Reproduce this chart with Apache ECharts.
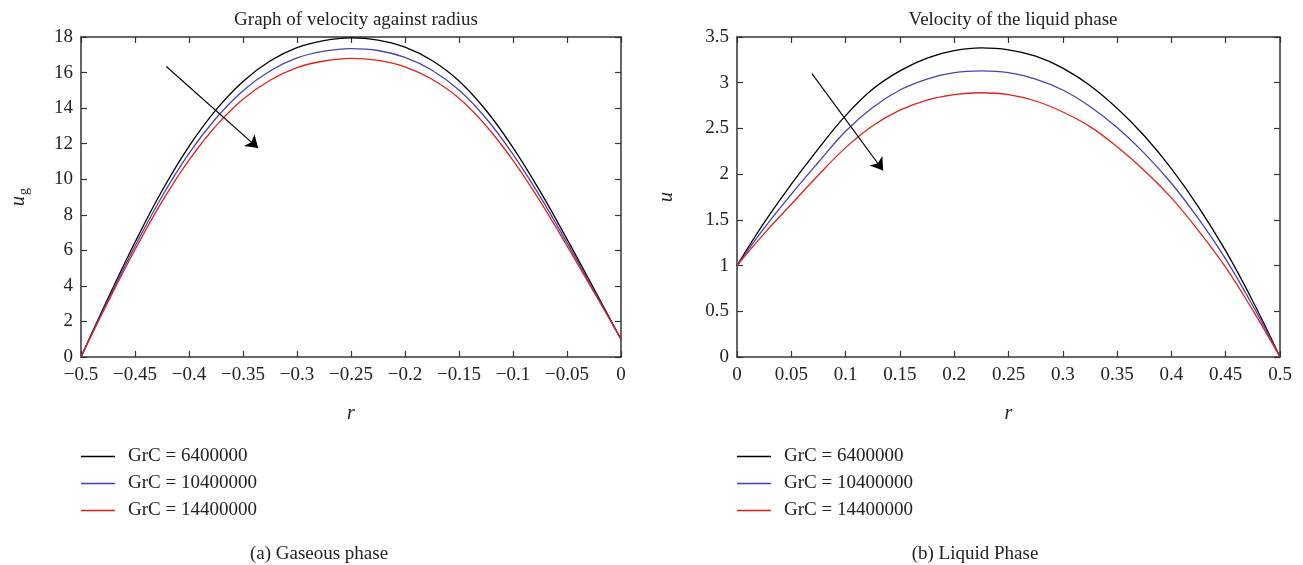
<!DOCTYPE html>
<html>
<head>
<meta charset="utf-8">
<script src="https://cdn.jsdelivr.net/npm/echarts@6/dist/echarts.min.js"></script>
<style>
html, body { margin: 0; background: #fff; }
#main { width: 1303px; height: 565px; }
</style>
</head>
<body>
<div id="main"></div>
<script>
// series names
const names = ["GrC = 6400000", "GrC = 10400000", "GrC = 14400000"];
const colors = ["#000000", "#4444b4", "#e3211b"];

// (a) gaseous phase, r from -0.5 to 0
const rGas = [-0.5, -0.475, -0.45, -0.425, -0.4, -0.375, -0.35, -0.325, -0.3, -0.275, -0.25,
  -0.225, -0.2, -0.175, -0.15, -0.125, -0.1, -0.075, -0.05, -0.025, 0];
const gasBlack = [0, 3.3, 6.45, 9.35, 11.85, 13.9, 15.5, 16.65, 17.4, 17.8, 17.95,
  17.83, 17.43, 16.68, 15.53, 13.88, 11.78, 9.33, 6.63, 3.83, 1.0];
const gasBlue = [0, 3.19, 6.23, 9.03, 11.45, 13.43, 14.98, 16.09, 16.82, 17.2, 17.35,
  17.24, 16.85, 16.13, 15.02, 13.43, 11.4, 9.04, 6.43, 3.73, 1.0];
const gasRed = [0, 3.09, 6.03, 8.74, 11.08, 13.0, 14.5, 15.57, 16.28, 16.65, 16.8,
  16.69, 16.32, 15.62, 14.55, 13.01, 11.06, 8.77, 6.25, 3.64, 1.0];

// (b) liquid phase, r from 0 to 0.5
const rLiq = [0, 0.025, 0.05, 0.075, 0.1, 0.125, 0.15, 0.175, 0.2, 0.225, 0.25,
  0.275, 0.3, 0.325, 0.35, 0.375, 0.4, 0.425, 0.45, 0.475, 0.5];
const liqBlack = [1.0, 1.47, 1.89, 2.28, 2.64, 2.93, 3.13, 3.27, 3.35, 3.38, 3.36,
  3.29, 3.16, 2.97, 2.72, 2.42, 2.06, 1.64, 1.16, 0.61, 0];
const liqBlue = [1.0, 1.41, 1.78, 2.13, 2.47, 2.73, 2.92, 3.04, 3.11, 3.13, 3.11,
  3.04, 2.92, 2.74, 2.51, 2.23, 1.9, 1.51, 1.07, 0.56, 0];
const liqRed = [1.0, 1.35, 1.67, 1.99, 2.29, 2.53, 2.7, 2.81, 2.87, 2.89, 2.87,
  2.8, 2.68, 2.52, 2.3, 2.04, 1.74, 1.38, 0.98, 0.51, 0];

// arrows (start, end) in data units
const gasArrow = [[-0.421, 16.34], [-0.336, 11.75]];
const liqArrow = [[0.069, 3.10], [0.1345, 2.04]];

const serif = "'Liberation Serif', 'DejaVu Serif', serif";
const axisCol = "#333";

function zip(xs, ys) {
  return xs.map((x, i) => [x, ys[i]]);
}

function xAx(grid, min, max, pos, withLabel) {
  return {
    type: "value", gridIndex: grid, min: min, max: max, interval: 0.05, position: pos,
    name: withLabel ? "r" : "", nameLocation: "middle", nameGap: 47,
    nameTextStyle: { fontFamily: serif, fontStyle: "italic", fontSize: 20, color: "#222" },
    axisLine: { onZero: false, lineStyle: { color: axisCol, width: 1.5 } },
    axisTick: { inside: true, length: 6, lineStyle: { color: axisCol, width: 1.2 } },
    axisLabel: {
      show: withLabel, margin: 9, fontFamily: serif, fontSize: 19, color: "#222",
      formatter: (v) => String(v).replace("-", "\u2212")
    },
    splitLine: { show: false }
  };
}

function yAx(grid, max, interval, pos, name, gap) {
  return {
    type: "value", gridIndex: grid, min: 0, max: max, interval: interval, position: pos,
    name: name, nameLocation: "middle", nameGap: gap,
    nameTextStyle: {
      fontFamily: serif, fontSize: 20, color: "#222",
      rich: {
        i: { fontFamily: serif, fontStyle: "italic", fontSize: 20, color: "#222" },
        s: { fontFamily: serif, fontSize: 14, color: "#222", padding: [10, 0, 0, 1] }
      }
    },
    axisLine: { onZero: false, lineStyle: { color: axisCol, width: 1.5 } },
    axisTick: { inside: true, length: 6, lineStyle: { color: axisCol, width: 1.2 } },
    axisLabel: { show: pos === "left", margin: 8, fontFamily: serif, fontSize: 19, color: "#222" },
    splitLine: { show: false }
  };
}

function line(name, color, xIdx, yIdx, data, arrow) {
  const s = {
    name: name, type: "line", xAxisIndex: xIdx, yAxisIndex: yIdx,
    data: data, smooth: 0.4, symbol: "none",
    lineStyle: { color: color, width: 1.3 }, itemStyle: { color: color },
    z: 3
  };
  if (arrow) {
    s.markLine = {
      silent: true, symbol: ["none", "arrow"], symbolSize: 12,
      label: { show: false },
      lineStyle: { color: "#000", width: 1.2, type: "solid" },
      data: [[{ coord: arrow[0] }, { coord: arrow[1] }]]
    };
  }
  return s;
}

const titleStyle = { fontFamily: serif, fontSize: 19, fontWeight: "normal", color: "#222" };
const legendBase = {
  orient: "vertical", top: 442, icon: "rect", itemWidth: 34, itemHeight: 1.5, itemGap: 8,
  data: names,
  textStyle: { fontFamily: serif, fontSize: 19, color: "#222", padding: [0, 0, 0, 8] }
};

const chart = echarts.init(document.getElementById("main"));
chart.setOption({
  animation: false,
  backgroundColor: "#fff",
  title: [
    { text: "Graph of velocity against radius", left: 351, top: 6, textAlign: "center", textStyle: titleStyle },
    { text: "Velocity of the liquid phase", left: 1008, top: 6, textAlign: "center", textStyle: titleStyle },
    { text: "(a) Gaseous phase", left: 314, top: 540, textAlign: "center", textStyle: titleStyle },
    { text: "(b) Liquid Phase", left: 970, top: 540, textAlign: "center", textStyle: titleStyle }
  ],
  legend: [
    Object.assign({}, legendBase, { left: 76 }),
    Object.assign({}, legendBase, { left: 732 })
  ],
  grid: [
    { left: 81, top: 37, width: 540, height: 320 },
    { left: 737, top: 37, width: 543, height: 320 }
  ],
  xAxis: [
    xAx(0, -0.5, 0, "bottom", true),
    xAx(0, -0.5, 0, "top", false),
    xAx(1, 0, 0.5, "bottom", true),
    xAx(1, 0, 0.5, "top", false)
  ],
  yAxis: [
    yAx(0, 18, 2, "left", "{i|u}{s|g}", 50),
    yAx(0, 18, 2, "right", "", 0),
    yAx(1, 3.5, 0.5, "left", "{i|u}", 60),
    yAx(1, 3.5, 0.5, "right", "", 0)
  ],
  series: [
    line(names[0], colors[0], 0, 0, zip(rGas, gasBlack), gasArrow),
    line(names[1], colors[1], 0, 0, zip(rGas, gasBlue)),
    line(names[2], colors[2], 0, 0, zip(rGas, gasRed)),
    line(names[0], colors[0], 2, 2, zip(rLiq, liqBlack), liqArrow),
    line(names[1], colors[1], 2, 2, zip(rLiq, liqBlue)),
    line(names[2], colors[2], 2, 2, zip(rLiq, liqRed))
  ]
});
</script>
</body>
</html>
